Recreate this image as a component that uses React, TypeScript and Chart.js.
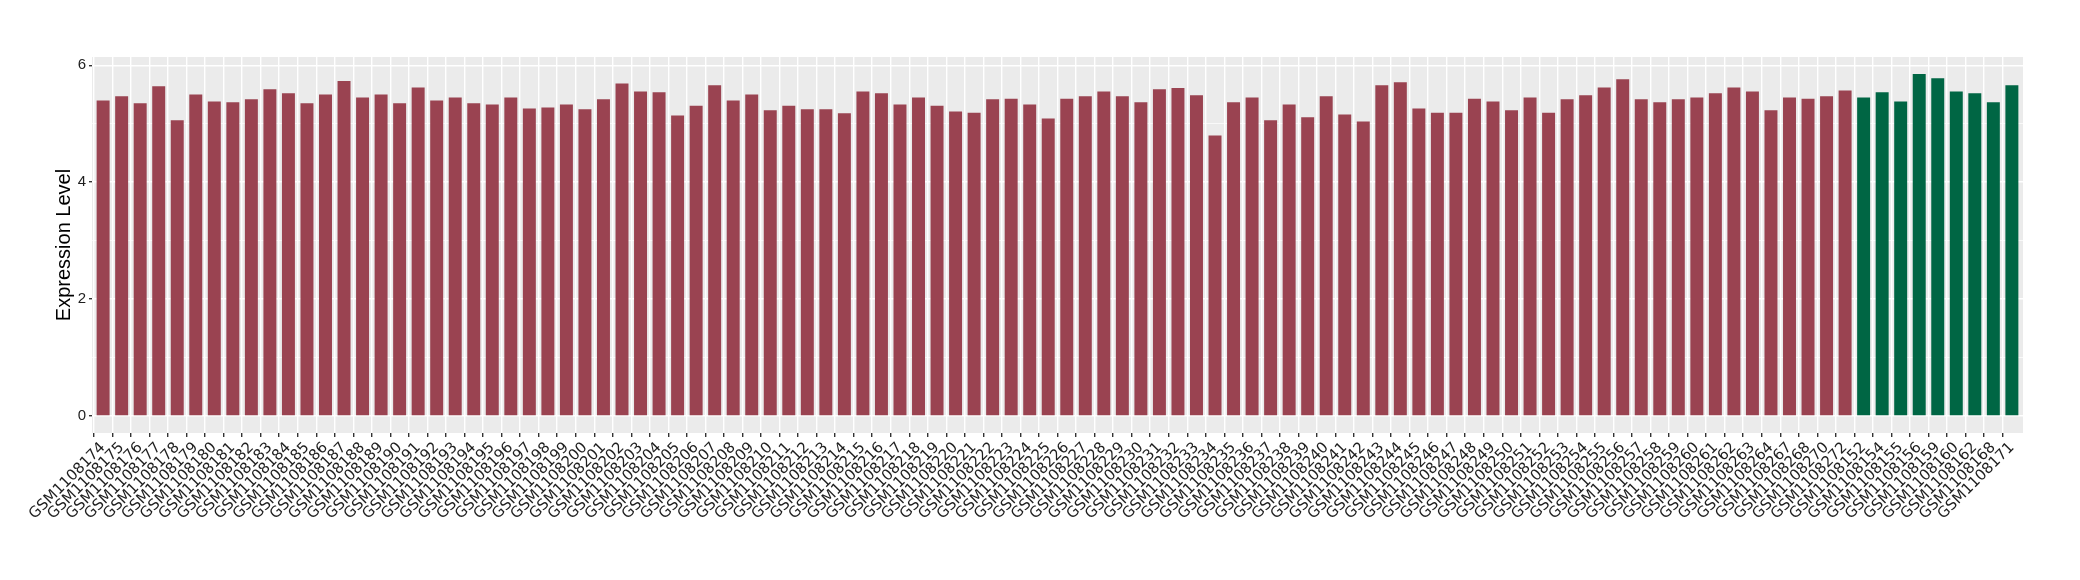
import React, { useEffect, useRef } from "react";
import { Chart, registerables } from "chart.js";

Chart.register(...registerables);

// Group A (red) samples
const groupALabels = [
  "GSM1108174", "GSM1108175", "GSM1108176", "GSM1108177", "GSM1108178", "GSM1108179", "GSM1108180", "GSM1108181",
  "GSM1108182", "GSM1108183", "GSM1108184", "GSM1108185", "GSM1108186", "GSM1108187", "GSM1108188", "GSM1108189",
  "GSM1108190", "GSM1108191", "GSM1108192", "GSM1108193", "GSM1108194", "GSM1108195", "GSM1108196", "GSM1108197",
  "GSM1108198", "GSM1108199", "GSM1108200", "GSM1108201", "GSM1108202", "GSM1108203", "GSM1108204", "GSM1108205",
  "GSM1108206", "GSM1108207", "GSM1108208", "GSM1108209", "GSM1108210", "GSM1108211", "GSM1108212", "GSM1108213",
  "GSM1108214", "GSM1108215", "GSM1108216", "GSM1108217", "GSM1108218", "GSM1108219", "GSM1108220", "GSM1108221",
  "GSM1108222", "GSM1108223", "GSM1108224", "GSM1108225", "GSM1108226", "GSM1108227", "GSM1108228", "GSM1108229",
  "GSM1108230", "GSM1108231", "GSM1108232", "GSM1108233", "GSM1108234", "GSM1108235", "GSM1108236", "GSM1108237",
  "GSM1108238", "GSM1108239", "GSM1108240", "GSM1108241", "GSM1108242", "GSM1108243", "GSM1108244", "GSM1108245",
  "GSM1108246", "GSM1108247", "GSM1108248", "GSM1108249", "GSM1108250", "GSM1108251", "GSM1108252", "GSM1108253",
  "GSM1108254", "GSM1108255", "GSM1108256", "GSM1108257", "GSM1108258", "GSM1108259", "GSM1108260", "GSM1108261",
  "GSM1108262", "GSM1108263", "GSM1108264", "GSM1108267", "GSM1108268", "GSM1108270", "GSM1108272",
];
const groupAValues = [
  5.40, 5.47, 5.35, 5.64, 5.06, 5.50, 5.38, 5.37, 5.42, 5.59, 5.52, 5.35, 5.50, 5.73, 5.45, 5.50, 5.35, 5.62, 5.40, 5.45,
  5.35, 5.33, 5.45, 5.26, 5.28, 5.33, 5.25, 5.42, 5.69, 5.55, 5.54, 5.14, 5.31, 5.66, 5.40, 5.50, 5.23, 5.31, 5.25, 5.25,
  5.18, 5.55, 5.52, 5.33, 5.45, 5.31, 5.21, 5.19, 5.42, 5.43, 5.33, 5.09, 5.43, 5.47, 5.55, 5.47, 5.37, 5.59, 5.61, 5.49,
  4.80, 5.37, 5.45, 5.06, 5.33, 5.11, 5.47, 5.16, 5.04, 5.66, 5.71, 5.26, 5.19, 5.19, 5.43, 5.38, 5.23, 5.45, 5.19, 5.42,
  5.49, 5.62, 5.76, 5.42, 5.37, 5.42, 5.45, 5.52, 5.62, 5.55, 5.23, 5.45, 5.43, 5.47, 5.57,
];

// Group B (green) samples
const groupBLabels = [
  "GSM1108152", "GSM1108154", "GSM1108155", "GSM1108156", "GSM1108159", "GSM1108160", "GSM1108162", "GSM1108168", "GSM1108171",
];
const groupBValues = [5.45, 5.54, 5.38, 5.85, 5.78, 5.55, 5.52, 5.37, 5.66];

const yTickValues = [0, 1, 2, 3, 4, 5, 6];
const yAxisTitle = "Expression Level";

const colorA = "#9A4351";
const colorB = "#006644";

const allLabels = [...groupALabels, ...groupBLabels];
const allValues = [...groupAValues, ...groupBValues];

const panelBg = {
  id: "panelBg",
  beforeDraw(chart: any) {
    const { ctx, chartArea: a } = chart;
    ctx.save();
    ctx.fillStyle = "#EBEBEB";
    ctx.fillRect(a.left, a.top, a.right - a.left, a.bottom - a.top);
    ctx.restore();
  },
};

const isInt = (c: any) => c.tick && Number.isInteger(c.tick.value);

export default function App() {
  const ref = useRef<HTMLCanvasElement | null>(null);

  useEffect(() => {
    if (!ref.current) return;
    const maxVal = Math.max(...allValues);
    const pad = maxVal * 0.05;
    const n = allLabels.length;
    const chart = new Chart(ref.current, {
      type: "bar",
      data: {
        datasets: [
          {
            data: groupAValues.map((v, i) => ({ x: i, y: v })),
            backgroundColor: colorA,
            grouped: false,
            barPercentage: 0.7,
            categoryPercentage: 1,
          },
          {
            data: groupBValues.map((v, i) => ({ x: groupAValues.length + i, y: v })),
            backgroundColor: colorB,
            grouped: false,
            barPercentage: 0.7,
            categoryPercentage: 1,
          },
        ],
      } as any,
      options: {
        responsive: false,
        animation: false,
        layout: { padding: { top: 57, right: 57, left: 0, bottom: 0 } },
        plugins: { legend: { display: false }, tooltip: { enabled: false } },
        scales: {
          x: {
            type: "linear",
            min: -0.6,
            max: n - 1 + 0.6,
            offset: false,
            afterBuildTicks: (s: any) => {
              s.ticks = allLabels.map((_, i) => ({ value: i }));
            },
            afterFit: (s: any) => {
              s.height = 147;
            },
            ticks: {
              autoSkip: false,
              maxRotation: 45,
              minRotation: 45,
              padding: 2,
              color: "#1E1E1E",
              font: { family: "DejaVu Sans", size: 15 },
              callback: (v: any) => (Number.isInteger(v) ? allLabels[v] ?? "" : ""),
            },
            grid: {
              color: (c: any) => (isInt(c) ? "#FFFFFF" : "rgba(0,0,0,0)"),
              lineWidth: 1.4,
              tickColor: (c: any) => (isInt(c) ? "#333333" : "rgba(0,0,0,0)"),
              tickLength: 4,
            },
            border: { display: false },
          },
          y: {
            min: -pad,
            max: maxVal + pad,
            afterBuildTicks: (s: any) => {
              s.ticks = yTickValues.map((v) => ({ value: v }));
            },
            afterFit: (s: any) => {
              s.width = 92;
            },
            ticks: {
              padding: 3,
              color: "#1E1E1E",
              font: { family: "Liberation Sans", size: 15 },
              callback: (v: any) => (v % 2 === 0 ? String(v) : ""),
            },
            grid: {
              color: "#FFFFFF",
              lineWidth: (c: any) => (c.tick && c.tick.value % 2 === 0 ? 1.4 : 0.7),
              tickColor: (c: any) => (c.tick && c.tick.value % 2 === 0 ? "#333333" : "rgba(0,0,0,0)"),
              tickLength: 3,
            },
            border: { display: false },
            title: {
              display: true,
              text: yAxisTitle,
              color: "#000000",
              font: { family: "Liberation Sans", size: 20 },
              padding: { top: 52, bottom: 0 },
            },
          },
        },
      } as any,
      plugins: [panelBg],
    });
    return () => chart.destroy();
  }, []);

  return (
    <div style={{ position: "fixed", left: 0, top: 0, width: 2080, height: 580, background: "#FFFFFF" }}>
      <canvas ref={ref} width={2080} height={580} />
    </div>
  );
}
